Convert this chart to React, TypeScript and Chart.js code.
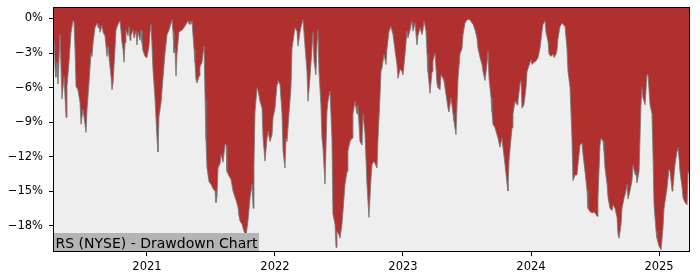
import React, { useEffect, useRef } from "react";
import { Chart, registerables } from "chart.js";

Chart.register(...registerables);

const title = "RS (NYSE) - Drawdown Chart";
const xTicks = [2021, 2022, 2023, 2024, 2025];
const yTicks = [0, -3, -6, -9, -12, -15, -18];
const xMin = 2020.266;
const xMax = 2025.242;
const yMin = -20.3;
const yMax = 1.0;

// dates as decimal years
const years = [
  2020.266, 2020.274, 2020.282, 2020.289, 2020.297, 2020.305, 2020.321, 2020.336, 2020.352, 2020.368,
  2020.375, 2020.391, 2020.407, 2020.422, 2020.430, 2020.438, 2020.446, 2020.461, 2020.477, 2020.485,
  2020.500, 2020.516, 2020.524, 2020.532, 2020.547, 2020.563, 2020.571, 2020.579, 2020.594, 2020.610,
  2020.618, 2020.625, 2020.633, 2020.649, 2020.657, 2020.672, 2020.688, 2020.696, 2020.704, 2020.719,
  2020.727, 2020.735, 2020.750, 2020.758, 2020.774, 2020.789, 2020.797, 2020.805, 2020.813, 2020.821,
  2020.829, 2020.836, 2020.852, 2020.860, 2020.868, 2020.875, 2020.891, 2020.899, 2020.914, 2020.922,
  2020.930, 2020.946, 2020.954, 2020.961, 2020.969, 2020.985,
  2021.000, 2021.016, 2021.024, 2021.032, 2021.047, 2021.063, 2021.079, 2021.086, 2021.094, 2021.110,
  2021.125, 2021.141, 2021.157, 2021.172, 2021.188, 2021.196, 2021.204, 2021.211, 2021.219, 2021.227,
  2021.235, 2021.250, 2021.258, 2021.274, 2021.289, 2021.305, 2021.321, 2021.329, 2021.336, 2021.344,
  2021.352, 2021.360, 2021.368, 2021.375, 2021.383, 2021.391, 2021.407, 2021.414, 2021.430, 2021.438,
  2021.446, 2021.454, 2021.461, 2021.469, 2021.485, 2021.500, 2021.516, 2021.532, 2021.539, 2021.547,
  2021.555, 2021.571, 2021.579, 2021.594, 2021.610, 2021.618, 2021.625, 2021.641, 2021.657, 2021.672,
  2021.696, 2021.711, 2021.719, 2021.727, 2021.743, 2021.758, 2021.774, 2021.789, 2021.805, 2021.821,
  2021.829, 2021.836, 2021.844, 2021.860, 2021.868, 2021.883, 2021.899, 2021.907, 2021.922, 2021.938,
  2021.946, 2021.961, 2021.977, 2021.985,
  2022.000, 2022.016, 2022.023, 2022.039, 2022.055, 2022.063, 2022.078, 2022.086, 2022.094, 2022.109,
  2022.125, 2022.133, 2022.141, 2022.156, 2022.172, 2022.180, 2022.195, 2022.211, 2022.219, 2022.234,
  2022.250, 2022.258, 2022.273, 2022.289, 2022.297, 2022.305, 2022.320, 2022.328, 2022.336, 2022.344,
  2022.359, 2022.367, 2022.375, 2022.391, 2022.406, 2022.414, 2022.430, 2022.445, 2022.453, 2022.469,
  2022.477, 2022.484, 2022.500, 2022.508, 2022.523, 2022.531, 2022.547, 2022.563, 2022.570, 2022.586,
  2022.602, 2022.609, 2022.625, 2022.641, 2022.648, 2022.664, 2022.680, 2022.688, 2022.703, 2022.719,
  2022.734, 2022.750, 2022.758, 2022.773, 2022.797, 2022.805, 2022.820, 2022.828, 2022.836, 2022.852,
  2022.867, 2022.875, 2022.891, 2022.906, 2022.922, 2022.938, 2022.953, 2022.961, 2022.977, 2022.992,
  2023.000, 2023.016, 2023.031, 2023.039, 2023.055, 2023.070, 2023.078, 2023.094, 2023.109, 2023.117,
  2023.133, 2023.148, 2023.156, 2023.164, 2023.180, 2023.188, 2023.195, 2023.211, 2023.227, 2023.234,
  2023.250, 2023.266, 2023.273, 2023.289, 2023.297, 2023.313, 2023.320, 2023.336, 2023.352, 2023.359,
  2023.375, 2023.391, 2023.398, 2023.414, 2023.422, 2023.430, 2023.445, 2023.461, 2023.469, 2023.484,
  2023.500, 2023.523, 2023.539, 2023.547, 2023.563, 2023.578, 2023.586, 2023.602, 2023.617, 2023.625,
  2023.641, 2023.656, 2023.664, 2023.672, 2023.688, 2023.695, 2023.703, 2023.719, 2023.734, 2023.742,
  2023.758, 2023.773, 2023.781, 2023.797, 2023.813, 2023.820, 2023.828, 2023.844, 2023.852, 2023.859,
  2023.875, 2023.891, 2023.898, 2023.914, 2023.922, 2023.930, 2023.945, 2023.961, 2023.969, 2023.984,
  2024.000, 2024.008, 2024.023, 2024.039, 2024.055, 2024.070, 2024.086, 2024.094, 2024.109, 2024.117,
  2024.133, 2024.141, 2024.156, 2024.172, 2024.180, 2024.195, 2024.203, 2024.211, 2024.227, 2024.242,
  2024.250, 2024.266, 2024.281, 2024.289, 2024.305, 2024.320, 2024.328, 2024.344, 2024.359, 2024.367,
  2024.383, 2024.398, 2024.406, 2024.422, 2024.438, 2024.445, 2024.461, 2024.477, 2024.484, 2024.500,
  2024.516, 2024.523, 2024.539, 2024.547, 2024.563, 2024.570, 2024.578, 2024.594, 2024.602, 2024.617,
  2024.633, 2024.641, 2024.656, 2024.672, 2024.680, 2024.688, 2024.703, 2024.711, 2024.727, 2024.742,
  2024.750, 2024.758, 2024.773, 2024.789, 2024.797, 2024.813, 2024.820, 2024.828, 2024.844, 2024.859,
  2024.867, 2024.875, 2024.891, 2024.906, 2024.914, 2024.930, 2024.945, 2024.953, 2024.961, 2024.977,
  2024.984,
  2025.000, 2025.016, 2025.031, 2025.039, 2025.055, 2025.063, 2025.078, 2025.086, 2025.102, 2025.109,
  2025.125, 2025.141, 2025.148, 2025.156, 2025.164, 2025.180, 2025.188, 2025.203, 2025.219, 2025.227,
  2025.242,
];

// drawdown in percent
const drawdown = [
  -1.8, -1.8, -4.2, -5.1, -3.8, -5.7, -1.4, -7.0, -5.0, -8.6,
  -5.9, -3.8, -1.2, -0.2, -0.3, -2.7, -5.9, -6.2, -7.3, -9.2,
  -7.9, -9.2, -9.9, -7.9, -5.6, -3.0, -3.3, -2.1, -0.8, -0.4,
  -0.8, -0.5, -1.2, -0.6, -1.2, -1.5, -3.3, -2.4, -3.4, -5.0,
  -6.2, -5.6, -2.7, -1.0, -0.5, -0.2, -1.0, -2.1, -2.7, -3.8,
  -2.1, -1.0, -1.5, -0.7, -1.9, -1.5, -1.0, -1.7, -1.1, -2.3,
  -1.2, -1.9, -1.0, -2.1, -2.8, -3.3,
  -3.4, -2.4, -1.2, -0.5, -4.4, -7.0, -10.5, -11.6, -8.5, -7.3,
  -5.2, -3.0, -1.4, -1.0, -0.4, -0.1, -1.2, -3.0, -2.6, -5.0,
  -3.0, -1.2, -1.1, -1.0, -0.8, -0.5, -0.2, -0.5, -0.2, -0.5,
  -0.2, -1.5, -2.7, -3.8, -5.3, -5.6, -5.0, -4.2, -3.8, -3.0,
  -2.4, -7.0, -10.5, -13.0, -14.2, -14.4, -14.8, -15.0, -16.0, -15.5,
  -13.0, -12.6, -11.8, -12.5, -10.9, -11.0, -13.3, -13.7, -14.0, -15.0,
  -15.8, -16.4, -17.2, -17.6, -17.9, -18.5, -18.9, -17.6, -15.6, -14.4,
  -16.5, -12.7, -8.1, -6.0, -6.3, -7.2, -7.8, -10.4, -12.4, -10.4,
  -9.8, -10.7, -10.1, -8.6,
  -7.8, -5.7, -5.4, -5.7, -8.3, -11.5, -13.0, -10.4, -10.7, -8.3,
  -6.0, -2.6, -2.0, -0.8, -1.1, -2.4, -1.2, -0.4, -0.1, -2.3,
  -4.6, -7.2, -5.2, -2.6, -1.2, -3.7, -4.9, -2.3, -1.0, -4.6,
  -7.5, -10.4, -11.2, -14.4, -8.1, -7.2, -6.3, -10.4, -17.0, -17.9,
  -19.9, -18.5, -18.8, -19.1, -17.9, -16.8, -14.4, -13.3, -11.5, -10.7,
  -10.4, -8.3, -7.2, -8.3, -7.5, -10.7, -11.0, -8.3, -10.0, -14.5,
  -17.3, -13.9, -12.7, -12.4, -13.0, -10.4, -6.9, -4.6, -4.3, -3.1,
  -4.0, -2.6, -1.1, -0.7, -1.4, -2.8, -4.0, -5.2, -4.4, -4.6,
  -4.9, -3.1, -1.1, -1.7, -1.0, -0.2, -1.1, -0.4, -2.3, -1.5,
  -0.8, -1.4, -1.0, -0.2, -1.1, -3.1, -4.6, -6.5, -4.6, -3.7,
  -3.0, -5.7, -6.0, -6.2, -4.9, -5.2, -5.4, -6.6, -7.8, -8.1,
  -6.9, -8.3, -8.9, -10.1, -7.5, -5.2, -3.1, -2.6, -1.4, -0.4,
  -0.1, -0.1, -0.4, -0.5, -1.0, -1.7, -2.6, -3.4, -4.0, -4.6,
  -5.4, -4.0, -2.8, -5.2, -6.9, -8.1, -9.2, -9.5, -10.1, -10.4,
  -11.2, -10.4, -11.2, -12.7, -14.4, -15.0, -12.4, -10.4, -9.5, -8.3,
  -7.2, -7.5, -7.2, -5.7, -5.4, -7.8, -7.5, -6.0, -4.6, -4.1,
  -3.6, -4.0, -3.8, -3.7, -3.4, -2.6, -1.1, -0.5, -0.2, -1.2,
  -2.0, -3.1, -3.3, -3.1, -3.4, -3.1, -2.8, -1.7, -0.7, -0.4,
  -0.5, -0.7, -2.6, -4.6, -6.0, -10.4, -14.1, -13.6, -13.6, -12.7,
  -11.0, -10.8, -11.8, -13.3, -15.0, -16.5, -16.8, -16.9, -16.8, -16.9,
  -17.2, -15.6, -11.0, -10.4, -10.7, -11.5, -13.0, -14.4, -15.6, -16.5,
  -16.7, -16.2, -16.5, -17.3, -18.8, -19.1, -17.9, -16.5, -15.6, -15.0,
  -14.4, -15.7, -15.0, -14.1, -12.7, -13.6, -13.3, -14.3, -13.3, -7.5,
  -6.0, -6.9, -7.5, -4.9, -4.9, -7.5, -8.3, -11.8, -16.2, -18.5,
  -19.1,
  -19.8, -20.1, -18.2, -16.5, -15.3, -14.7, -13.1, -13.3, -15.0, -14.7,
  -12.7, -11.5, -11.2, -12.1, -13.3, -14.7, -15.6, -16.0, -16.2, -13.3,
  -13.6,
];

const fmtPct = (v: number) => (v === 0 ? "0%" : (v < 0 ? "\u2212" : "") + Math.abs(v) + "%");

export default function App() {
  const ref = useRef<HTMLCanvasElement | null>(null);

  useEffect(() => {
    if (!ref.current) return;
    const points = years.map((x, i) => ({ x, y: drawdown[i] }));

    const framePlugin = {
      id: "frameAndLabel",
      beforeDatasetsDraw(chart: any) {
        const { ctx, chartArea: a } = chart;
        ctx.save();
        ctx.fillStyle = "#eeeeee";
        ctx.fillRect(a.left, a.top, a.right - a.left, a.bottom - a.top);
        ctx.restore();
      },
      afterDatasetsDraw(chart: any) {
        const { ctx, chartArea: a } = chart;
        ctx.save();
        // label box
        ctx.font = '14px "DejaVu Sans"';
        const tw = ctx.measureText(title).width;
        ctx.fillStyle = "#b4b4b4";
        ctx.fillRect(a.left, a.bottom - 19, tw + 4, 19);
        ctx.fillStyle = "#000000";
        ctx.textBaseline = "alphabetic";
        ctx.textAlign = "left";
        ctx.fillText(title, a.left + 2.5, a.bottom - 4.5);
        // frame
        ctx.strokeStyle = "#000000";
        ctx.lineWidth = 1;
        ctx.strokeRect(Math.round(a.left) + 0.5, Math.round(a.top) + 0.5, Math.round(a.right - a.left) - 1, Math.round(a.bottom - a.top) - 1);
        ctx.restore();
      },
    };

    const chart = new Chart(ref.current, {
      type: "line",
      data: {
        datasets: [
          {
            data: points,
            borderColor: "rgba(120,120,120,0.85)",
            borderWidth: 1,
            backgroundColor: "#b03030",
            fill: "end",
            pointRadius: 0,
            tension: 0,
          },
        ],
      },
      options: {
        responsive: false,
        animation: false,
        layout: { padding: { top: 7, right: 10, left: 0, bottom: 0 } },
        plugins: { legend: { display: false }, tooltip: { enabled: false } },
        scales: {
          x: {
            type: "linear",
            min: xMin,
            max: xMax,
            afterBuildTicks: (s: any) => {
              s.ticks = xTicks.map((v) => ({ value: v }));
            },
            afterFit: (s: any) => {
              s.height = 28;
              s.paddingLeft = 0;
              s.paddingRight = 0;
            },
            grid: { display: true, drawOnChartArea: false, drawTicks: true, tickLength: 4, color: "#000000" },
            border: { display: false },
            ticks: {
              callback: (v: any) => String(v),
              color: "#000000",
              font: { family: '"DejaVu Sans"', size: 11.5 },
              padding: 4,
              maxRotation: 0,
              autoSkip: false,
            },
          },
          y: {
            type: "linear",
            min: yMin,
            max: yMax,
            afterBuildTicks: (s: any) => {
              s.ticks = yTicks.map((v) => ({ value: v }));
            },
            afterFit: (s: any) => {
              s.width = 53;
              s.paddingTop = 0;
              s.paddingBottom = 0;
            },
            grid: { display: true, drawOnChartArea: false, drawTicks: true, tickLength: 4, color: "#000000" },
            border: { display: false },
            ticks: {
              callback: (v: any) => fmtPct(Number(v)),
              color: "#000000",
              font: { family: '"DejaVu Sans"', size: 11.5 },
              padding: 6,
              autoSkip: false,
            },
          },
        },
      },
      plugins: [framePlugin],
    });
    return () => chart.destroy();
  }, []);

  return (
    <div style={{ position: "absolute", left: 0, top: 0, width: 700, height: 280, background: "#ffffff" }}>
      <canvas ref={ref} width={700} height={280} style={{ display: "block" }} />
    </div>
  );
}
